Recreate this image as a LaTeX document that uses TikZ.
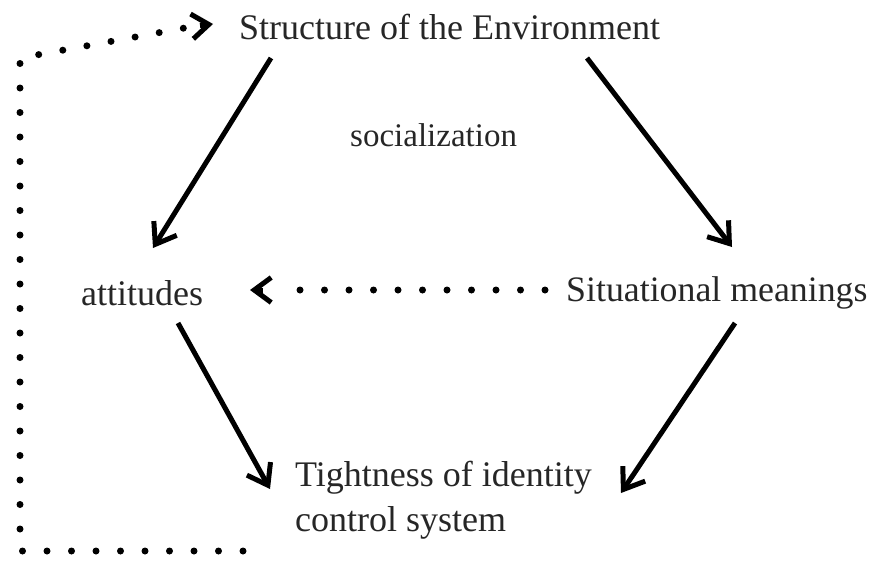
\documentclass[tikz,border=0pt]{standalone}
\usepackage{fontspec}
\setmainfont{Liberation Serif}
\usetikzlibrary{arrows.meta}
\begin{document}
\begin{tikzpicture}[x=1pt,y=-1pt,
  lbl/.style={inner sep=0pt,font=\fontsize{36}{40}\selectfont,text=black!85},
  solidarrow/.style={line width=5pt,-{Straight Barb[length=19pt,width=27pt,line width=5pt]}},
  dotline/.style={line width=7pt,line cap=round,dash pattern=on 0pt off 24.5pt},
  dothead/.style={line width=5pt,-{Straight Barb[length=17pt,width=25pt,line width=5pt]}}]
\useasboundingbox (0,0) rectangle (877,565);
\node[lbl,anchor=west] (env) at (239,27) {Structure of the Environment};
\node[lbl,anchor=west,font=\fontsize{33}{36}\selectfont] (soc) at (350,135) {socialization};
\node[lbl,anchor=west] (att) at (81,293) {attitudes};
\node[lbl,anchor=west,font=\fontsize{35.8}{40}\selectfont] (sit) at (566,293) {Situational meanings};
\node[lbl,anchor=west,align=left,font=\fontsize{36}{45}\selectfont] (tight) at (295,500) {Tightness of identity\\control system};
\coordinate (e1) at (271,58);
\coordinate (a1) at (153,248);
\coordinate (e2) at (587,58);
\coordinate (s1) at (732,247);
\coordinate (a2) at (178,323);
\coordinate (t1) at (270,489);
\coordinate (s2) at (735,323);
\coordinate (t2) at (621,493);
\draw[solidarrow] (e1) -- (a1);
\draw[solidarrow] (e2) -- (s1);
\draw[solidarrow] (a2) -- (t1);
\draw[solidarrow] (s2) -- (t2);
\coordinate (sd) at (545,290);
\coordinate (ad) at (250,290);
\draw[dotline] (sd) -- (276,290);
\draw[dothead] (263,290) -- (ad);
\coordinate (b0) at (243,551);
\coordinate (b1) at (20,551);
\coordinate (b2) at (20,58);
\coordinate (b3) at (190,27);
\coordinate (eh) at (213,24);
\draw[dotline] (b0) -- (b1) -- (b2) -- (b3);
\draw[dothead] (200,25.5) -- (eh);
\end{tikzpicture}
\end{document}
